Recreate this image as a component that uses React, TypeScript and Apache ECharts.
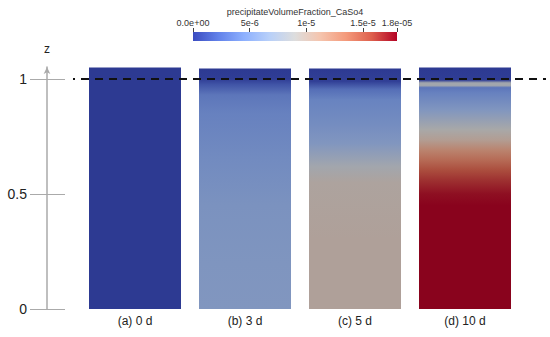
import React, { useEffect, useRef } from "react";
import * as echarts from "echarts";

// ---- data ----
const categories = ["(a) 0 d", "(b) 3 d", "(c) 5 d", "(d) 10 d"];
const columnTop = [1.05, 1.045, 1.045, 1.05];
const zTicks = [0, 0.5, 1];
const dashedLevel = 1;

// concentration profiles (unit 1e-6) versus height z
const profileA_z = [1.05, 0];
const profileA_v = [0, 0];
const profileB_z = [1.045, 1.0, 0.975, 0.93, 0.85, 0.65, 0.45, 0.2, 0];
const profileB_v = [0, 0.2, 1.5, 3.5, 4.2, 5.0, 5.6, 5.9, 6.0];
const profileC_z = [1.045, 0.99, 0.955, 0.91, 0.8, 0.72, 0.62, 0.55, 0.3, 0];
const profileC_v = [0, 0.3, 3.0, 4.3, 5.2, 6.0, 8.5, 9.6, 9.9, 9.9];
const profileD_z = [1.05, 0.995, 0.983, 0.972, 0.962, 0.94, 0.865, 0.78, 0.735, 0.69, 0.648, 0.604, 0.561, 0.5, 0.45, 0];
const profileD_v = [0, 0.2, 8.5, 8.5, 3.5, 4.2, 6.0, 9.0, 10.3, 12.5, 14.0, 15.5, 16.5, 17.6, 18, 18];

const colorbarTicks = [0, 5, 10, 15, 18];
const colorbarLabels = ["0.0e+00", "5e-6", "1e-5", "1.5e-5", "1.8e-05"];
const valueMax = 18;
const colorbarTitle = "precipitateVolumeFraction_CaSo4";

// cool-to-warm colour map stops [t, r, g, b]
const coolWarm = [
  [0, 59, 76, 192],
  [0.125, 98, 130, 234],
  [0.25, 141, 176, 254],
  [0.375, 184, 208, 249],
  [0.5, 221, 221, 221],
  [0.625, 245, 196, 173],
  [0.75, 244, 154, 123],
  [0.875, 222, 96, 77],
  [1, 180, 4, 38],
];

const FONT = "'Liberation Sans', Arial, sans-serif";

function cmap(t: number, shade: number): string {
  const tt = Math.max(0, Math.min(1, t));
  let i = 0;
  while (i < coolWarm.length - 2 && tt > coolWarm[i + 1][0]) i++;
  const a = coolWarm[i];
  const b = coolWarm[i + 1];
  const f = (tt - a[0]) / (b[0] - a[0]);
  const c = [1, 2, 3].map((k) => Math.round((a[k] + (b[k] - a[k]) * f) * shade));
  return `rgb(${c[0]},${c[1]},${c[2]})`;
}

const profiles = [
  [profileA_z, profileA_v],
  [profileB_z, profileB_v],
  [profileC_z, profileC_v],
  [profileD_z, profileD_v],
];

export default function App() {
  const ref = useRef<HTMLDivElement>(null);
  useEffect(() => {
    document.body.style.margin = "0";
    if (!ref.current) return;
    const chart = echarts.init(ref.current, null, { renderer: "svg" });
    const SHADE = 0.76;
    const barData = columnTop.map((top, i) => {
      const [zs, vs] = profiles[i];
      const stops = zs.map((z, k) => ({
        offset: Math.max(0, Math.min(1, 1 - z / top)),
        color: cmap(vs[k] / valueMax, SHADE),
      }));
      return {
        value: top,
        itemStyle: { color: new echarts.graphic.LinearGradient(0, 0, 0, 1, stops) },
      };
    });
    const cbStops = coolWarm.map((s) => ({ offset: s[0], color: cmap(s[0], 1) }));
    chart.setOption({
      animation: false,
      textStyle: { fontFamily: FONT },
      grid: [
        { left: 80, right: 30, top: 67, bottom: 28 },
        { left: 193, width: 204, top: 32, height: 9 },
      ],
      xAxis: [
        {
          type: "category",
          gridIndex: 0,
          data: categories,
          axisLine: { show: false },
          axisTick: { show: false },
          axisLabel: { margin: 6, fontSize: 12, color: "#222", fontFamily: FONT },
        },
        {
          type: "value",
          gridIndex: 1,
          position: "top",
          min: 0,
          max: valueMax,
          name: colorbarTitle,
          nameLocation: "middle",
          nameGap: 16,
          nameTextStyle: { fontSize: 9, color: "#333", fontFamily: FONT },
          axisLine: { show: false },
          axisTick: { show: true, length: 4, customValues: colorbarTicks, lineStyle: { color: "#444" } },
          axisLabel: {
            customValues: colorbarTicks,
            formatter: (v: number) => colorbarLabels[colorbarTicks.indexOf(v)] ?? "",
            fontSize: 9,
            color: "#333",
            margin: 5,
            fontFamily: FONT,
          },
          splitLine: { show: false },
        },
      ],
      yAxis: [
        {
          type: "value",
          gridIndex: 0,
          min: 0,
          max: 1.052,
          offset: 33,
          position: "left",
          name: "z",
          nameGap: 12,
          nameTextStyle: { fontSize: 12, color: "#222", fontFamily: FONT },
          axisLine: {
            show: true,
            symbol: ["none", "arrow"],
            symbolSize: [5, 7],
            lineStyle: { color: "#aaa", width: 1.5 },
          },
          axisTick: { show: true, length: 17, customValues: zTicks, lineStyle: { color: "#aaa" } },
          axisLabel: { customValues: zTicks, margin: 20, fontSize: 14, color: "#222", fontFamily: FONT },
          splitLine: { show: false },
        },
        {
          type: "value",
          gridIndex: 0,
          min: 0,
          max: 1.052,
          offset: 33,
          position: "left",
          axisLine: { show: false },
          axisTick: { show: true, inside: true, length: 18, customValues: zTicks, lineStyle: { color: "#aaa" } },
          axisLabel: { show: false },
          splitLine: { show: false },
        },
        { type: "category", gridIndex: 1, data: ["cb"], show: false },
      ],
      series: [
        {
          type: "bar",
          xAxisIndex: 0,
          yAxisIndex: 0,
          barWidth: 92,
          data: barData,
        },
        {
          type: "bar",
          xAxisIndex: 1,
          yAxisIndex: 2,
          barWidth: "100%",
          data: [valueMax],
          itemStyle: { color: new echarts.graphic.LinearGradient(0, 0, 1, 0, cbStops) },
        },
      ],
    });
    const y = chart.convertToPixel({ yAxisIndex: 0 }, dashedLevel) as number;
    chart.setOption({
      graphic: [
        {
          type: "line",
          z: 100,
          shape: { x1: 73, y1: y, x2: 546, y2: y },
          style: { stroke: "#111", lineWidth: 2, lineDash: [8, 6], lineDashOffset: 6 },
        },
      ],
    });
    return () => chart.dispose();
  }, []);
  return <div ref={ref} style={{ width: 550, height: 337 }} />;
}
